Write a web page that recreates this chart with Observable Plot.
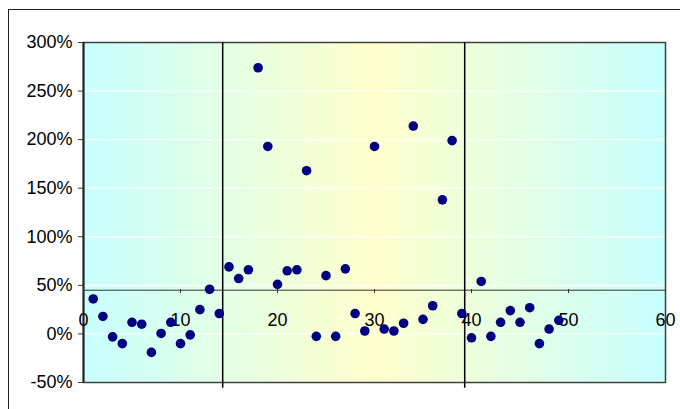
<!DOCTYPE html>
<html><head><meta charset="utf-8">
<script src="https://cdn.jsdelivr.net/npm/d3@7"></script>
<script src="https://cdn.jsdelivr.net/npm/@observablehq/plot@0.6"></script>
<style>
html,body{margin:0;padding:0;background:#fff;overflow:hidden;width:680px;height:409px}
#wrap{position:relative;width:680px;height:409px}
#border{position:absolute;left:8px;top:9px;width:800px;height:600px;border:1.5px solid #222;box-sizing:border-box;pointer-events:none}
svg{display:block}
</style>
</head><body>
<div id="wrap"><div id="border"></div><div id="chart"></div></div>
<script>
const xs = [1,2,3,4,5,6,7,8,9,10,11,12,13,14,15,16,17,18,19,20,21,22,23,24,25,26,27,28,29,30,31,32,33,34,35,36,37,38,39,40,41,42,43,44,45,46,47,48,49];
const values = [36,18,-3,-10,12,10,-19,0.5,12,-10,-1,25,46,21,69,57,66,274,193,51,65,66,168,-2.5,60,-2.5,67,21,3,193,5,3,11,214,15,29,138,199,21,-4,54,-2.5,12,24,12,27,-10,5,14];
const dividers = [14.35, 39.3];
const dividerTop = 300;
const dividerBottom = -56;
const yTicks = [-50,0,50,100,150,200,250,300];
const xTicks = [0,10,20,30,40,50,60];
const axisCrossing = 45;

const data = xs.map((x,i) => ({x, v: values[i]}));

const gradient = () => {
  const defs = d3.create("svg:defs");
  const g = defs.append("linearGradient").attr("id","bg").attr("x1","0").attr("x2","1").attr("y1","0").attr("y2","0");
  g.append("stop").attr("offset","0%").attr("stop-color","#c8fffe");
  g.append("stop").attr("offset","50%").attr("stop-color","#ffffcc");
  g.append("stop").attr("offset","100%").attr("stop-color","#c8fffe");
  return defs.node();
};

const chart = Plot.plot({
  width: 680, height: 409,
  marginLeft: 83, marginRight: 15, marginTop: 42, marginBottom: 27,
  style: {fontFamily: "'Liberation Sans', Arial, sans-serif", fontSize: "18px", background: "transparent", overflow: "visible", color: "black"},
  x: {domain: [0, 60]},
  y: {domain: [-50, 300]},
  marks: [
    gradient,
    Plot.frame({fill: "url(#bg)", stroke: null}),
    Plot.gridY(yTicks, {stroke: "white", strokeOpacity: 1, strokeWidth: 1}),
    Plot.frame({stroke: "#404040", strokeWidth: 1.5}),
    Plot.ruleX([0], {stroke: "#222", strokeWidth: 2}),
    Plot.ruleY([axisCrossing], {stroke: "#333", strokeWidth: 1}),
    Plot.axisY(yTicks, {anchor: "left", tickSize: 5, tickPadding: 6, tickFormat: d => d + "%", label: null, fontSize: 18, stroke: "#333"}),
    Plot.axisX(xTicks, {anchor: "bottom", dy: -93, tickSize: 4, tickPadding: 20, label: null, fontSize: 18, stroke: "#333"}),
    Plot.ruleX(dividers, {y1: dividerTop, y2: dividerBottom, stroke: "black", strokeWidth: 1.5, clip: false}),
    Plot.dot(data, {x: "x", y: "v", r: 4.8, fill: "#000080", stroke: null})
  ]
});
document.getElementById("chart").appendChild(chart);
</script>
</body></html>
